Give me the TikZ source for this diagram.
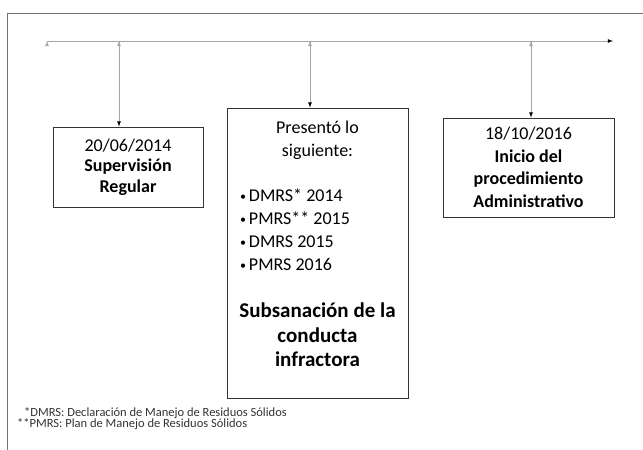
\documentclass[tikz,border=0pt]{standalone}
\usepackage{fontspec}
\setmainfont{Carlito}
\usetikzlibrary{positioning}
\tikzset{>=latex}
\tikzset{hito/.style={draw=black!80,line width=0.8pt,align=center,inner sep=0pt,fill=white}}
\tikzset{flecha/.style={draw=black!35,line width=0.8pt,->}}
\tikzset{nota/.style={anchor=west,inner sep=0pt,text=black!80,font=\fontsize{12.5}{14}\selectfont}}
\newcommand{\punto}{\raisebox{1pt}{\fontsize{12}{12}\selectfont\textbullet}\,}

\begin{document}
\begin{tikzpicture}[x=1pt,y=-1pt]
\useasboundingbox (0,0) rectangle (643,450);
\draw[black!55,line width=0.8pt] (7,450) -- (7,13) -- (643,13);
\coordinate (t0) at (47,41);
\coordinate (t1) at (613,41);
\coordinate (a1) at (119,41);
\coordinate (a2) at (310,41);
\coordinate (a3) at (531,41);
\node[hito,minimum width=150pt,minimum height=80pt,font=\fontsize{18}{20.5}\selectfont] (sup) at (128,167) {20/06/2014\\\textbf{Supervisión}\\\textbf{Regular}};
\node[hito,minimum width=181pt,minimum height=290pt,font=\fontsize{18}{23}\selectfont] (pres) at (317.5,253) {Presentó lo\\siguiente:\\[22pt]
\makebox[155pt][l]{\punto DMRS* 2014}\\
\makebox[155pt][l]{\punto PMRS** 2015}\\
\makebox[155pt][l]{\punto DMRS 2015}\\
\makebox[155pt][l]{\punto PMRS 2016}\\[24pt]
{\fontsize{21}{24}\selectfont\bfseries Subsanación de la}\\[1.5pt]
{\fontsize{21}{24}\selectfont\bfseries conducta}\\[1.5pt]
{\fontsize{21}{24}\selectfont\bfseries infractora}\rule[-18pt]{0pt}{0pt}};
\node[hito,minimum width=171pt,minimum height=99pt,font=\fontsize{18}{22.5}\selectfont] (proc) at (528.5,167.5) {18/10/2016\\\textbf{Inicio del}\\\textbf{procedimiento}\\\textbf{Administrativo}};
\path [flecha] (t0) edge (t1);
\path [flecha] (a1) edge (a1 |- sup.north);
\path [flecha] (a2) edge (a2 |- pres.north);
\path [flecha] (a3) edge (a3 |- proc.north);
\node[nota] (n1) at (24,413) {*DMRS: Declaración de Manejo de Residuos Sólidos};
\node[nota] (n2) at (17,424) {**PMRS: Plan de Manejo de Residuos Sólidos};
\end{tikzpicture}
\end{document}
